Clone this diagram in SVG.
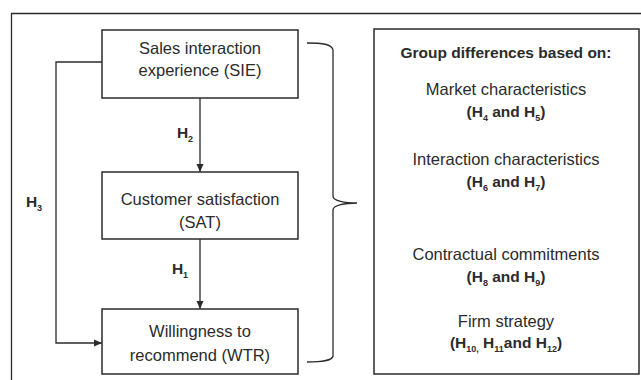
<svg xmlns="http://www.w3.org/2000/svg" width="641" height="380" viewBox="0 0 641 380">
<style>
.box{fill:#fff;stroke:#2b2b2b;stroke-width:1.5}
.ln{fill:none;stroke:#2b2b2b;stroke-width:1.3}
text{font-family:"Liberation Sans",Arial,sans-serif;font-size:16.5px;fill:#2b2b2b;text-anchor:middle}
.b{font-weight:bold;font-size:15.5px}
.s{font-size:9px;font-weight:bold}
</style>
<defs>
<marker id="ah" markerWidth="8" markerHeight="8" refX="8" refY="4" orient="auto" markerUnits="userSpaceOnUse">
<path d="M0,0.5 L8,4 L0,7.5 Z" fill="#2b2b2b"/>
</marker>
</defs>
<rect x="0" y="0" width="641" height="380" fill="#fff"/>
<path class="ln" d="M11.5,380 V13.5 H641"/>
<g id="connectors">
<path class="ln" d="M200,98 V172" marker-end="url(#ah)"/>
<path class="ln" d="M200,239 V309" marker-end="url(#ah)"/>
<path class="ln" d="M102,62 H56 V343 H102" marker-end="url(#ah)"/>
<path class="ln" d="M307,43 C322,43 332,44 333,50 V196 C333,201 345,203 357,203 C345,203 333,205 333,210 V356 C332,361 322,362 307,362"/>
<text class="b" x="185" y="138">H<tspan class="s" dy="4">2</tspan></text>
<text class="b" x="180" y="274">H<tspan class="s" dy="4">1</tspan></text>
<text class="b" x="34" y="207">H<tspan class="s" dy="4">3</tspan></text>
</g>
<g id="sie">
<rect class="box" x="102" y="30" width="196" height="68"/>
<text x="200" y="54">Sales interaction</text>
<text x="200" y="76">experience (SIE)</text>
</g>
<g id="sat">
<rect class="box" x="102" y="172" width="196" height="67"/>
<text x="200" y="205">Customer satisfaction</text>
<text x="200" y="228">(SAT)</text>
</g>
<g id="wtr">
<rect class="box" x="102" y="309" width="196" height="65"/>
<text x="200" y="337">Willingness to</text>
<text x="200" y="361">recommend (WTR)</text>
</g>
<g id="groups">
<rect class="box" x="374" y="29" width="265" height="345"/>
<text class="b" x="506" y="58">Group differences based on:</text>
<text x="506" y="95">Market characteristics</text>
<text class="b" x="506" y="117">(H<tspan class="s" dy="4">4</tspan><tspan dy="-4"> and H</tspan><tspan class="s" dy="4">5</tspan><tspan dy="-4">)</tspan></text>
<text x="506" y="165">Interaction characteristics</text>
<text class="b" x="506" y="187">(H<tspan class="s" dy="4">6</tspan><tspan dy="-4"> and H</tspan><tspan class="s" dy="4">7</tspan><tspan dy="-4">)</tspan></text>
<text x="506" y="260">Contractual commitments</text>
<text class="b" x="506" y="282">(H<tspan class="s" dy="4">8</tspan><tspan dy="-4"> and H</tspan><tspan class="s" dy="4">9</tspan><tspan dy="-4">)</tspan></text>
<text x="506" y="327">Firm strategy</text>
<text class="b" x="506" y="348">(H<tspan class="s" dy="4">10,</tspan><tspan dy="-4"> H</tspan><tspan class="s" dy="4">11</tspan><tspan dy="-4">and H</tspan><tspan class="s" dy="4">12</tspan><tspan dy="-4">)</tspan></text>
</g>
</svg>
